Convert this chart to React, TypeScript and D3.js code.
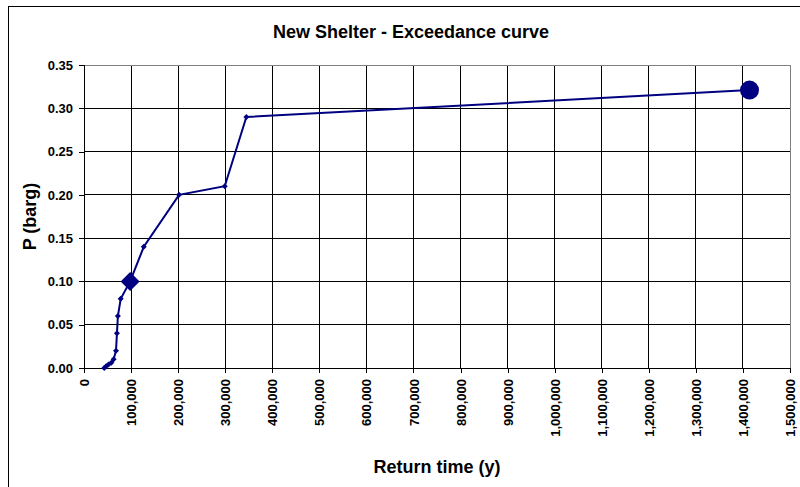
import * as d3 from "d3";
import { useRef, useEffect } from "react";

// return time (years) and overpressure (barg)
const returnTimes = [43000, 47000, 52000, 58000, 63000, 68000, 70000, 72000, 78000, 98000, 127000, 202000, 299000, 345000, 1414000];
const pressures = [0.0, 0.002, 0.004, 0.006, 0.01, 0.02, 0.04, 0.06, 0.08, 0.1, 0.14, 0.2, 0.21, 0.29, 0.321];

// highlighted points
const diamondPoint = { time: 98000, p: 0.1 };
const circlePoint = { time: 1414000, p: 0.321 };

const xTicks = d3.range(0, 1500001, 100000);
const yTicks = [0, 0.05, 0.1, 0.15, 0.2, 0.25, 0.3, 0.35];

const title = "New Shelter - Exceedance curve";
const xLabel = "Return time (y)";
const yLabel = "P (barg)";

const navy = "#000080";

function diamond(r: number) {
  return `M0,${-r}L${r},0L0,${r}L${-r},0Z`;
}

export default function App() {
  const ref = useRef<SVGSVGElement>(null);
  const width = 800, height = 487;
  const margin = { left: 84, right: 10, top: 65, bottom: 119 };

  useEffect(() => {
    const svg = d3.select(ref.current);
    svg.selectAll("*").remove();

    const font = "'Liberation Sans', Arial, sans-serif";
    const x = d3.scaleLinear().domain([0, 1500000]).range([margin.left, width - margin.right]);
    const y = d3.scaleLinear().domain([0, 0.35]).range([height - margin.bottom, margin.top]);

    // outer chart frame
    svg.append("rect")
      .attr("x", 8.5).attr("y", 6.5)
      .attr("width", 820).attr("height", 520)
      .attr("fill", "white").attr("stroke", "black");

    // gridlines
    const grid = svg.append("g").attr("shape-rendering", "crispEdges");
    grid.selectAll("line.h").data(yTicks).join("line")
      .attr("x1", x(0)).attr("x2", x(1500000))
      .attr("y1", d => y(d)).attr("y2", d => y(d))
      .attr("stroke", "#000");
    grid.selectAll("line.v").data(xTicks).join("line")
      .attr("y1", y(0)).attr("y2", y(0.35))
      .attr("x1", d => x(d)).attr("x2", d => x(d))
      .attr("stroke", "#000");

    // plot area border (top/right gray)
    svg.append("rect")
      .attr("x", x(0)).attr("y", y(0.35))
      .attr("width", x(1500000) - x(0)).attr("height", y(0) - y(0.35))
      .attr("fill", "none").attr("stroke", "#808080")
      .attr("shape-rendering", "crispEdges");

    // axes
    const xAxis = d3.axisBottom(x).tickValues(xTicks).tickSize(5).tickFormat(d3.format(","));
    const gx = svg.append("g")
      .attr("transform", `translate(0,${y(0)})`)
      .attr("shape-rendering", "crispEdges")
      .call(xAxis);
    gx.select(".domain").attr("stroke", "#000");
    gx.selectAll(".tick text")
      .attr("transform", "rotate(-90)")
      .attr("text-anchor", "end")
      .attr("x", -11).attr("y", 0).attr("dy", "0.35em")
      .style("font", `bold 13px ${font}`)
      .attr("fill", "#000");

    const yAxis = d3.axisLeft(y).tickValues(yTicks).tickSize(5).tickFormat(d3.format(".2f"));
    const gy = svg.append("g")
      .attr("transform", `translate(${x(0)},0)`)
      .attr("shape-rendering", "crispEdges")
      .call(yAxis);
    gy.selectAll(".tick text")
      .attr("x", -11)
      .style("font", `bold 13px ${font}`)
      .attr("fill", "#000");

    // curve
    const pts = returnTimes.map((t, i) => ({ time: t, p: pressures[i] }));
    const line = d3.line<{ time: number; p: number }>()
      .x(d => x(d.time))
      .y(d => y(d.p));
    svg.append("path")
      .datum(pts)
      .attr("fill", "none")
      .attr("stroke", navy)
      .attr("stroke-width", 2)
      .attr("d", line);

    svg.selectAll("path.marker").data(pts).join("path")
      .attr("class", "marker")
      .attr("transform", d => `translate(${x(d.time)},${y(d.p)})`)
      .attr("d", diamond(3))
      .attr("fill", navy);

    svg.append("path")
      .attr("transform", `translate(${x(diamondPoint.time)},${y(diamondPoint.p)})`)
      .attr("d", diamond(9.5))
      .attr("fill", navy);

    svg.append("circle")
      .attr("cx", x(circlePoint.time)).attr("cy", y(circlePoint.p))
      .attr("r", 9.5)
      .attr("fill", navy);

    // titles
    svg.append("text")
      .attr("x", 411).attr("y", 38)
      .attr("text-anchor", "middle")
      .style("font", `bold 18px ${font}`)
      .text(title);

    svg.append("text")
      .attr("x", 437).attr("y", 473)
      .attr("text-anchor", "middle")
      .style("font", `bold 18px ${font}`)
      .text(xLabel);

    svg.append("text")
      .attr("transform", `translate(36,${(y(0) + y(0.35)) / 2}) rotate(-90)`)
      .attr("text-anchor", "middle")
      .style("font", `bold 18px ${font}`)
      .text(yLabel);
  }, []);

  return (
    <svg
      ref={ref}
      width={width}
      height={height}
      style={{ position: "absolute", left: 0, top: 0, background: "white" }}
    />
  );
}
